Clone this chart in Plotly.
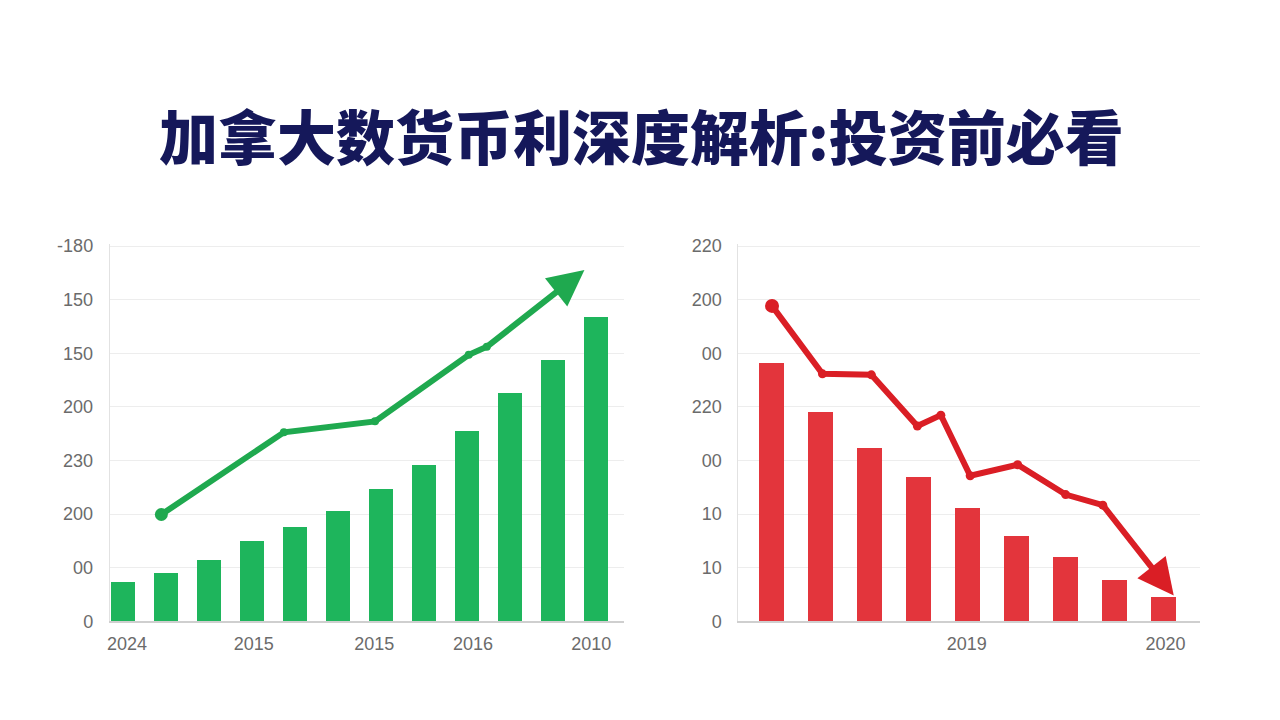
import plotly.graph_objects as go

# ---------------- data ----------------
title_text = "加拿大数货币利深度解析:投资前必看"

# left (growth) chart
left_bar_values = [37, 45, 57, 75, 88, 103, 123, 146, 178, 213, 244, 284]
left_line_x = [0.9, 3.75, 5.87, 8.05, 8.47, 10.74]
left_line_y = [99.6, 176.3, 186.5, 248.6, 256, 327.7]
left_ytick_vals = [0, 50, 100, 150, 200, 250, 300, 350]
left_ytick_text = ["0", "00", "200", "230", "200", "150", "150", "-180"]
left_xtick_vals = [0.1, 3.05, 5.85, 8.15, 10.9]
left_xtick_text = ["2024", "2015", "2015", "2016", "2010"]

# right (decline) chart
right_bar_values = [240.7, 195.4, 162, 134.3, 105.6, 79.6, 60.2, 38.9, 23.1]
right_line_x = [0, 1.03, 2.03, 2.97, 3.45, 4.05, 5.02, 6.0, 6.76, 8.21]
right_line_y = [294.2, 230.8, 229.9, 182.1, 192.3, 135.8, 146, 118.2, 108.3, 24.1]
right_ytick_vals = [0, 50, 100, 150, 200, 250, 300, 350]
right_ytick_text = ["0", "10", "10", "00", "220", "00", "200", "220"]
right_xtick_vals = [3.98, 8.04]
right_xtick_text = ["2019", "2020"]

# ---------------- styles ----------------
GREEN_BAR = "#1EB55C"
GREEN_LINE = "#1FA94F"
RED_BAR = "#E3353C"
RED_LINE = "#DA1E25"
GRID = "#EDEDED"
TICK_FONT = dict(family="Liberation Sans, Arial, sans-serif", size=18, color="#6b6b6b")

# vertical placement (figure pixels)
PLOT_BOTTOM = 629
PLOT_TOP = 242
TITLE_Y = 130

fig = go.Figure()


def add_series(bars, lx, ly, bar_color, line_color, bar_width, start_size, joint_size, xa, ya):
    fig.add_trace(go.Bar(x=list(range(len(bars))), y=bars,
                         marker=dict(color=bar_color, line=dict(width=0)), width=bar_width,
                         xaxis=xa, yaxis=ya, showlegend=False, hoverinfo="skip"))
    fig.add_trace(go.Scatter(x=lx[:-1], y=ly[:-1], mode="lines+markers",
                             line=dict(color=line_color, width=6),
                             marker=dict(color=line_color, size=joint_size, opacity=1,
                                         line=dict(width=0)),
                             xaxis=xa, yaxis=ya, showlegend=False, hoverinfo="skip"))
    # start dot
    fig.add_trace(go.Scatter(x=lx[:1], y=ly[:1], mode="markers",
                             marker=dict(color=line_color, size=start_size, opacity=1,
                                         line=dict(width=0)),
                             xaxis=xa, yaxis=ya, showlegend=False, hoverinfo="skip"))
    # arrow head on last segment
    xr = "x" if xa == "x" else "x2"
    yr = "y" if ya == "y" else "y2"
    fig.add_annotation(x=lx[-1], y=ly[-1], ax=lx[-2], ay=ly[-2],
                       xref=xr, yref=yr, axref=xr, ayref=yr, text="", showarrow=True,
                       arrowhead=2, arrowsize=1.2, arrowwidth=6, arrowcolor=line_color, standoff=0)


add_series(left_bar_values, left_line_x, left_line_y, GREEN_BAR, GREEN_LINE, 0.57, 13, 8, "x", "y")
add_series(right_bar_values, right_line_x, right_line_y, RED_BAR, RED_LINE, 0.51, 14, 9, "x2", "y2")

fig.add_annotation(x=0.5, y=1 - TITLE_Y / 720, xref="paper", yref="paper", text=title_text,
                   showarrow=False, xanchor="center", yanchor="middle",
                   font=dict(family="Noto Sans CJK SC", size=59, color="#15185A", weight=900))

common_x = dict(showgrid=False, zeroline=False, showline=True, linecolor="#cfcfcf", linewidth=1.5,
                ticks="", tickfont=TICK_FONT, ticklabelstandoff=5, fixedrange=True)
common_y = dict(showgrid=True, gridcolor=GRID, gridwidth=1, zeroline=False, showline=True,
                linecolor="#e2e2e2", linewidth=1, ticks="", tickfont=TICK_FONT,
                ticklabelstandoff=12, range=[0, 352], fixedrange=True)

ydom = [1 - PLOT_BOTTOM / 720, 1 - PLOT_TOP / 720]

fig.update_layout(
    width=1280, height=720, margin=dict(l=0, r=0, t=0, b=0),
    paper_bgcolor="white", plot_bgcolor="white", bargap=0,
    xaxis=dict(domain=[107 / 1280, 622 / 1280], range=[-0.30, 11.65], anchor="y",
               tickvals=left_xtick_vals, ticktext=left_xtick_text, **common_x),
    yaxis=dict(domain=ydom, anchor="x",
               tickvals=left_ytick_vals, ticktext=left_ytick_text, **common_y),
    xaxis2=dict(domain=[737 / 1280, 1200 / 1280], range=[-0.69, 8.75], anchor="y2",
                tickvals=right_xtick_vals, ticktext=right_xtick_text, **common_x),
    yaxis2=dict(domain=ydom, anchor="x2",
                tickvals=right_ytick_vals, ticktext=right_ytick_text, **common_y),
)

fig.write_html("out.html")
